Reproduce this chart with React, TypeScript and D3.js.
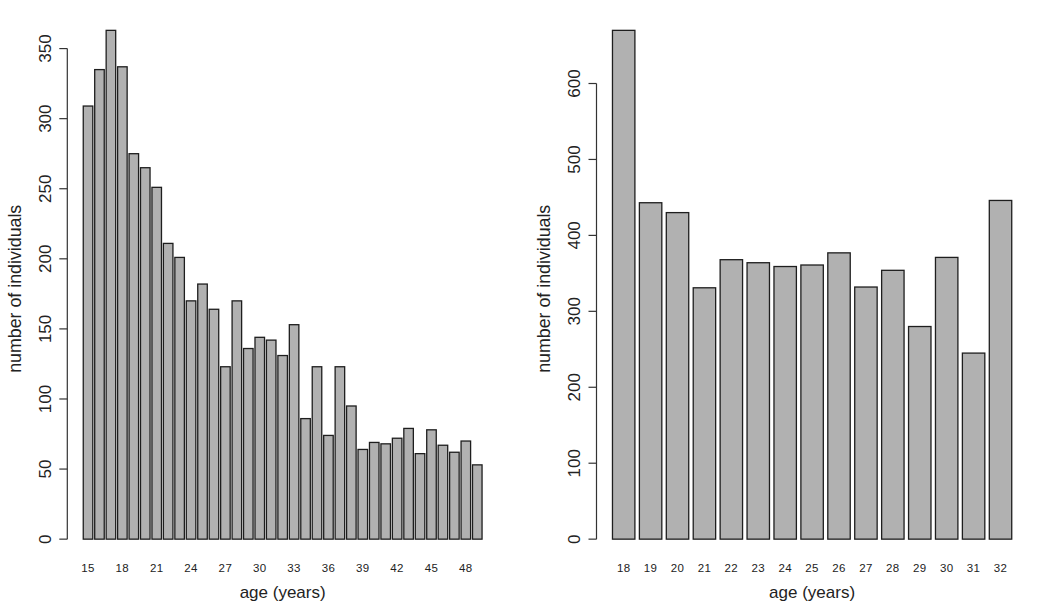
import React from "react";
import * as d3 from "d3";

// ---- data ----
const leftAges = [15,16,17,18,19,20,21,22,23,24,25,26,27,28,29,30,31,32,33,34,35,36,37,38,39,40,41,42,43,44,45,46,47,48,49];
const leftCounts = [309,335,363,337,275,265,251,211,201,170,182,164,123,170,136,144,142,131,153,86,123,74,123,95,64,69,68,72,79,61,78,67,62,70,53];
const leftXTickLabels = ["15","18","21","24","27","30","33","36","39","42","45","48"];
const leftYTicks = [0,50,100,150,200,250,300,350];

const rightAges = [18,19,20,21,22,23,24,25,26,27,28,29,30,31,32];
const rightCounts = [670,443,430,331,368,364,359,361,377,332,354,280,371,245,446];
const rightXTickLabels = ["18","19","20","21","22","23","24","25","26","27","28","29","30","31","32"];
const rightYTicks = [0,100,200,300,400,500,600];

const xTitle = "age (years)";
const yTitle = "number of individuals";

const W = 1050, H = 605;
const PLOT_TOP = 10, PLOT_BOTTOM = 559.5;
const FONT = "'Liberation Sans', Arial, Helvetica, sans-serif";

type PanelProps = {
  ages: number[];
  counts: number[];
  tickLabels: string[];
  yTicks: number[];
  left: number;
  right: number;
};

function Panel({ ages, counts, tickLabels, yTicks, left, right }: PanelProps) {
  const n = counts.length;
  // R barplot geometry: width 1, space 0.2
  const xStart = 0.2;
  const xEnd = n * 1.2;
  const ext = 0.04 * (xEnd - xStart);
  const x = d3.scaleLinear().domain([xStart - ext, xEnd + ext]).range([left, right]);
  const maxV = d3.max(counts) as number;
  const y = d3.scaleLinear().domain([-0.04 * maxV, 1.04 * maxV]).range([PLOT_BOTTOM, PLOT_TOP]);
  const barLeft = (i: number) => 0.2 + i * 1.2;
  const barCenter = (i: number) => barLeft(i) + 0.5;
  const axisX = left;
  const tickLen = 8;
  const yTop = y(yTicks[yTicks.length - 1]);
  const yBot = y(yTicks[0]);
  const centerX = (left + right) / 2;
  const centerY = (PLOT_TOP + PLOT_BOTTOM) / 2;

  return (
    <g>
      {counts.map((c, i) => (
        <rect
          key={i}
          x={x(barLeft(i))}
          y={y(c)}
          width={x(barLeft(i) + 1) - x(barLeft(i))}
          height={y(0) - y(c)}
          fill="#b1b1b1"
          stroke="#1e1e1e"
          strokeWidth={1.3}
        />
      ))}
      {/* y axis */}
      <line x1={axisX} x2={axisX} y1={yTop} y2={yBot} stroke="#333" strokeWidth={1.2} />
      {yTicks.map((t) => (
        <g key={t}>
          <line x1={axisX - tickLen} x2={axisX} y1={y(t)} y2={y(t)} stroke="#333" strokeWidth={1.2} />
          <text
            transform={`translate(${axisX - 16.5},${y(t)}) rotate(-90)`}
            textAnchor="middle"
            fontFamily={FONT}
            fontSize={17}
            fill="#222"
          >
            {t}
          </text>
        </g>
      ))}
      {/* x tick labels */}
      {ages.map((a, i) =>
        tickLabels.includes(String(a)) ? (
          <text
            key={a}
            x={x(barCenter(i))}
            y={571.7}
            textAnchor="middle"
            fontFamily={FONT}
            fontSize={11.5}
            letterSpacing={0.4}
            fill="#222"
          >
            {a}
          </text>
        ) : null
      )}
      <text x={centerX} y={598} textAnchor="middle" fontFamily={FONT} fontSize={17} fill="#222">
        {xTitle}
      </text>
      <text
        transform={`translate(${axisX - 46.3},${centerY + 4}) rotate(-90)`}
        textAnchor="middle"
        fontFamily={FONT}
        fontSize={17.8}
        fill="#222"
      >
        {yTitle}
      </text>
    </g>
  );
}

export default function App() {
  return (
    <svg
      width={W}
      height={H}
      viewBox={`0 0 ${W} ${H}`}
      style={{ position: "absolute", left: 0, top: 0, background: "#fff" }}
    >
      <rect x={0} y={0} width={W} height={H} fill="#fff" />
      <Panel ages={leftAges} counts={leftCounts} tickLabels={leftXTickLabels} yTicks={leftYTicks} left={67.3} right={498} />
      <Panel ages={rightAges} counts={rightCounts} tickLabels={rightXTickLabels} yTicks={rightYTicks} left={596.5} right={1027.7} />
    </svg>
  );
}
